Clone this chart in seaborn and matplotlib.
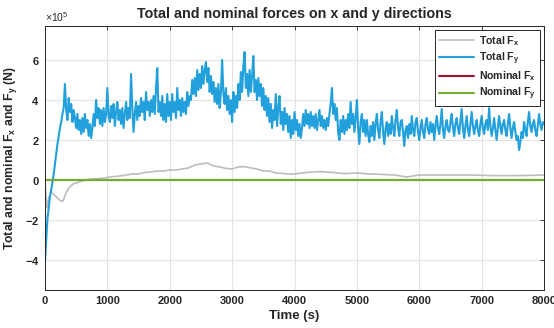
import numpy as np
import pandas as pd
import matplotlib
matplotlib.use("Agg")
import matplotlib.pyplot as plt
import matplotlib.ticker as mticker
import seaborn as sns

# ---------------- data (forces in units of 1e5 N) ----------------
FY = [
    # 0 - 480 s
    -4.1, -3.0, -1.9, -1.4, -0.8, -0.5, -0.1, 0.3, 0.8, 1.3, 1.8, 2.2, 2.6, 2.9, 3.3, 3.6, 4.8, 3.5, 3.0, 4.1, 3.4, 3.8, 2.9, 3.5, 3.1,
    # 500 - 980 s
    2.6, 3.3, 2.5, 3.0, 2.3, 3.1, 2.4, 3.3, 2.6, 3.0, 2.2, 2.8, 2.1, 2.6, 3.3, 2.7, 4.0, 3.1, 3.6, 2.8, 3.5, 2.7, 3.6, 2.9, 3.3,
    # 1000 - 1480 s
    4.6, 3.2, 2.9, 3.7, 3.1, 3.8, 2.7, 3.4, 3.9, 3.0, 3.5, 2.8, 3.6, 2.6, 3.3, 3.9, 3.0, 3.6, 3.1, 5.3, 3.6, 2.4, 3.3, 3.9, 3.0,
    # 1500 - 1980 s
    3.7, 3.2, 4.1, 3.4, 3.9, 3.0, 4.4, 3.5, 3.9, 3.2, 4.0, 3.4, 4.2, 3.3, 4.6, 5.6, 3.4, 3.9, 3.2, 4.2, 3.0, 3.8, 2.9, 4.3, 3.2,
    # 2000 - 2480 s
    3.9, 3.0, 4.3, 3.4, 3.9, 3.1, 4.6, 3.5, 4.0, 3.2, 4.1, 3.4, 3.9, 3.3, 4.4, 3.7, 4.2, 4.0, 5.0, 4.3, 5.1, 4.2, 5.5, 4.5, 5.3,
    # 2500 - 2980 s
    4.6, 5.7, 4.8, 5.5, 5.9, 4.9, 5.6, 4.4, 5.2, 4.3, 4.9, 3.9, 4.6, 3.8, 4.8, 3.6, 4.4, 6.0, 4.3, 3.8, 4.6, 3.5, 4.2, 3.3, 4.0,
    # 3000 - 3480 s
    2.9, 4.4, 3.4, 4.2, 3.6, 4.8, 4.0, 5.4, 4.4, 5.7, 6.4, 4.6, 5.3, 4.2, 5.5, 4.4, 5.2, 6.2, 4.4, 5.0, 4.0, 5.1, 4.2, 4.8, 3.7,
    # 3500 - 3980 s
    4.6, 3.5, 4.2, 3.2, 4.1, 2.9, 3.8, 2.6, 3.5, 3.0, 4.3, 2.7, 3.6, 4.2, 2.8, 3.4, 2.5, 3.6, 2.8, 3.3, 2.4, 3.2, 2.1, 3.0, 2.3,
    # 4000 - 4480 s
    3.4, 2.5, 3.0, 2.2, 2.8, 2.1, 2.6, 3.3, 2.7, 3.5, 2.8, 3.3, 2.6, 3.4, 2.7, 3.2, 2.6, 3.3, 2.5, 3.0, 3.5, 2.7, 3.2, 2.6, 3.0,
    # 4500 - 4980 s
    2.5, 3.1, 2.7, 3.3, 3.8, 4.6, 3.3, 3.8, 3.0, 3.6, 2.4, 2.0, 3.0, 2.4, 3.2, 2.3, 3.0, 2.5, 3.3, 2.6, 3.9, 2.8, 3.3, 2.4, 3.1,
    # 5000 - 5480 s
    4.0, 2.6, 1.8, 2.9, 3.3, 2.4, 3.0, 2.2, 3.0, 2.3, 1.9, 2.7, 2.2, 2.9, 2.0, 2.8, 3.3, 2.5, 2.1, 2.9, 3.4, 2.4, 1.8, 2.6, 2.9,
    # 5500 - 5980 s
    2.2, 2.8, 2.3, 3.2, 2.6, 2.2, 3.0, 3.5, 2.6, 2.2, 2.9, 3.0, 2.4, 1.7, 2.5, 2.7, 2.1, 2.8, 2.3, 3.2, 2.5, 2.2, 2.9, 3.1, 2.4,
    # 6000 - 6480 s
    2.0, 2.6, 3.0, 2.4, 2.1, 2.8, 3.1, 2.5, 2.3, 2.9, 2.4, 2.8, 2.0, 2.7, 3.2, 2.6, 2.3, 2.8, 3.55, 2.5, 2.1, 2.7, 3.0, 2.5, 2.4,
    # 6500 - 6980 s
    2.9, 3.3, 2.6, 2.2, 2.8, 3.1, 2.6, 2.3, 2.9, 3.55, 2.6, 2.1, 2.7, 3.2, 2.5, 2.2, 2.8, 3.4, 2.7, 2.3, 2.7, 3.0, 2.5, 2.2, 2.8,
    # 7000 - 7480 s
    3.2, 2.6, 2.3, 2.8, 3.0, 2.5, 3.6, 2.7, 2.2, 2.6, 3.1, 2.5, 2.0, 2.6, 3.2, 2.7, 2.3, 2.8, 3.0, 2.5, 2.2, 2.8, 3.3, 2.6, 2.1,
    # 7500 - 8000 s
    2.6, 2.9, 2.4, 2.0, 2.2, 1.5, 1.9, 2.4, 2.1, 2.9, 2.5, 2.2, 2.9, 3.4, 2.7, 2.4, 2.8, 3.0, 2.5, 2.2, 2.7, 3.3, 2.8, 2.5, 2.9, 2.8,
]
FY_STEP_S = 20
TIME_FY = np.arange(len(FY)) * FY_STEP_S

TIME_FX = [0, 30, 60, 100, 150, 200, 250, 290, 330, 380, 450, 550, 650, 750, 900, 1000, 1100, 1200, 1300, 1400,
           1500, 1600, 1700, 1800, 1900, 2000, 2100, 2200, 2300, 2400, 2500, 2600, 2700, 2800, 2900, 3000,
           3100, 3200, 3300, 3400, 3500, 3600, 3700, 3800, 3900, 4000, 4200, 4400, 4600, 4800, 5000, 5200,
           5400, 5600, 5800, 5900, 6000, 6400, 6800, 7200, 7600, 8000]
FX = [0.0, -1.4, -0.9, -0.6, -0.75, -0.9, -1.05, -1.05, -0.7, -0.4, -0.2, -0.1, 0.0, 0.05, 0.08, 0.13, 0.17, 0.2,
      0.25, 0.3, 0.3, 0.38, 0.4, 0.45, 0.45, 0.5, 0.5, 0.55, 0.6, 0.75, 0.8, 0.85, 0.7, 0.65, 0.58, 0.55,
      0.65, 0.67, 0.6, 0.55, 0.45, 0.45, 0.35, 0.33, 0.3, 0.3, 0.38, 0.42, 0.38, 0.32, 0.35, 0.3, 0.28,
      0.25, 0.15, 0.2, 0.25, 0.25, 0.25, 0.22, 0.22, 0.25]

TIME_NOM = [0, 8000]
NOM_FX = [0.0, 0.0]
NOM_FY = [0.0, 0.0]

SCALE = 1e5
LABELS = [r"Total F$_{\mathbf{x}}$", r"Total F$_{\mathbf{y}}$",
          r"Nominal F$_{\mathbf{x}}$", r"Nominal F$_{\mathbf{y}}$"]
COLORS = ["#bdbdbd", "#22a0dc", "#a2142f", "#77ac30"]

# ---------------- figure ----------------
sns.set_style("white")
plt.rcParams["font.family"] = ["Liberation Sans", "DejaVu Sans"]
plt.rcParams["mathtext.fontset"] = "custom"
plt.rcParams["mathtext.rm"] = "Liberation Sans"
plt.rcParams["mathtext.bf"] = "Liberation Sans:bold"

fig = plt.figure(figsize=(5.54, 3.28), dpi=100)
ax = fig.add_axes([0.0812, 0.1159, 0.9008, 0.8048])

series = [(TIME_FX, FX), (list(TIME_FY), FY), (TIME_NOM, NOM_FX), (TIME_NOM, NOM_FY)]
widths = [1.2, 1.5, 1.5, 1.5]
for (tt, vv), lab, col, lw in zip(series, LABELS, COLORS, widths):
    df = pd.DataFrame({"t": tt, "v": np.asarray(vv) * SCALE})
    sns.lineplot(data=df, x="t", y="v", ax=ax, color=col, label=lab, lw=lw,
                 sort=False, estimator=None)

ax.set_xlim(0, 8000)
ax.set_ylim(-5.5e5, 7.7e5)
ax.set_xticks(np.arange(0, 8001, 1000))
ax.set_yticks(np.arange(-4e5, 6.1e5, 2e5))
fmt = mticker.ScalarFormatter(useMathText=True)
fmt.set_powerlimits((0, 0))
ax.yaxis.set_major_formatter(fmt)
ax.yaxis.get_offset_text().set_fontsize(7.5)

ax.grid(True, color="#e3e3e3", lw=0.8)
ax.tick_params(direction="in", top=True, right=True, length=3, width=0.6,
               labelsize=8, colors="#262626", pad=4)
for lbl in ax.get_xticklabels() + ax.get_yticklabels():
    lbl.set_fontweight("bold")
for s in ax.spines.values():
    s.set_color("#262626")
    s.set_linewidth(0.7)

ax.set_title("Total and nominal forces on x and y directions", fontsize=10.3,
             fontweight="bold", pad=6)
ax.set_xlabel("Time (s)", fontsize=9.5, fontweight="bold", labelpad=3)
ax.set_ylabel(r"Total and nominal F$_{\mathbf{x}}$ and F$_{\mathbf{y}}$ (N)",
              fontsize=8.8, fontweight="bold", labelpad=4)

leg = ax.legend(loc="upper right", frameon=True, fancybox=False,
                edgecolor="#262626", framealpha=1, handlelength=3.3,
                borderaxespad=0.4, labelspacing=0.25, borderpad=0.35,
                handletextpad=0.5, prop={"weight": "bold", "size": 7.6})
leg.get_frame().set_linewidth(0.7)

fig.savefig("out.png", dpi=100)
